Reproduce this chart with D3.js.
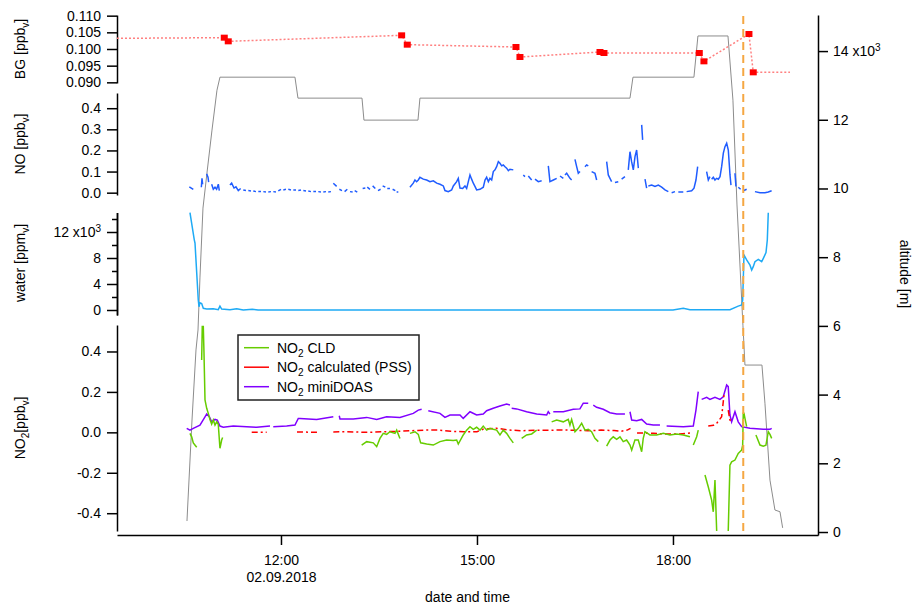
<!DOCTYPE html>
<html>
<head>
<meta charset="utf-8">
<script src="https://cdn.jsdelivr.net/npm/d3@7"></script>
<style>
  body { margin: 0; background: #fff; }
  text { font-family: "Liberation Sans", Arial, sans-serif; }
</style>
</head>
<body>
<svg id="chart" width="913" height="608"></svg>
<script>
// ---- data (time in decimal hours of 02.09.2018) ----
const flightDate = "02.09.2018";
const timeTicks = [12, 15, 18];
const eventTime = 19.076;

// background measurements [hour, ppbv]; first/last entries only extend the line
const bgData = [[9.49,0.1032],[11.132,0.1034],[11.193,0.1023],[13.847,0.1041],[13.933,0.1013],
  [15.597,0.1006],[15.658,0.0976],[16.883,0.0991],[16.944,0.0988],[18.403,0.0988],[18.474,0.0963],
  [19.163,0.1045],[19.229,0.0930],[19.791,0.0930]];
const bgTicks = [0.090, 0.095, 0.100, 0.105, 0.110];

// NO [ppbv]; null = no data
const noData = [[10.597,0.028],[10.627,0.022],[10.658,0.016],null,[10.781,0.026],[10.791,0.068],[10.801,0.040],null,
  [10.862,0.089],[10.883,0.073],[10.893,0.050],null,[10.939,0.040],[10.964,0.016],[10.990,0.026],[11.015,0.016],[11.041,0.040],[11.056,0.010],null,
  [11.219,0.036],[11.245,0.045],[11.281,0.022],[11.311,0.028],[11.347,0.010],[11.383,0.020],null,
  [11.423,0.013],[11.464,0.010],null,[11.500,0.010],[11.541,0.008],null,[11.576,0.008],[11.617,0.005],null,[11.653,0.005],[11.694,0.005],null,
  [11.730,0.005],[11.770,0.003],null,[11.806,0.003],[11.847,0.005],null,[11.883,0.005],[11.923,0.003],null,[11.959,0.008],[12.000,0.016],null,
  [12.036,0.013],[12.076,0.016],null,[12.112,0.016],[12.153,0.013],null,[12.189,0.013],[12.230,0.013],null,[12.265,0.010],[12.306,0.013],null,
  [12.342,0.010],[12.383,0.008],null,[12.418,0.008],[12.459,0.005],null,[12.495,0.005],[12.536,0.005],null,[12.571,0.005],[12.612,0.003],null,
  [12.648,0.003],[12.689,0.005],null,[12.724,0.003],[12.765,0.005],null,[12.801,0.045],[12.852,0.030],null,[12.893,0.016],[12.934,0.010],null,
  [12.974,0.005],[13.015,0.016],null,[13.056,0.005],[13.097,0.003],null,[13.128,0.010],[13.168,0.003],null,[13.250,0.020],[13.291,0.022],null,
  [13.321,0.026],[13.362,0.016],null,[13.403,0.032],[13.444,0.020],null,[13.485,0.010],[13.525,0.016],null,[13.556,0.032],[13.597,0.026],null,
  [13.627,0.020],[13.668,0.020],null,[13.709,0.016],[13.750,0.010],null,[13.770,0.003],[13.796,0.003],null,
  [13.974,0.026],[14.025,0.045],[14.051,0.060],[14.076,0.052],[14.102,0.060],[14.127,0.073],[14.178,0.064],[14.230,0.060],[14.281,0.052],
  [14.332,0.056],[14.383,0.045],[14.434,0.040],[14.485,0.032],[14.510,0.010],[14.561,0.005],[14.612,0.013],[14.638,0.032],[14.689,0.052],
  [14.714,0.068],[14.740,0.022],[14.781,0.020],[14.816,0.032],[14.842,0.020],[14.893,0.084],[14.918,0.064],[14.944,0.045],[14.969,0.030],
  [14.995,0.013],[15.046,0.016],[15.097,0.026],[15.123,0.060],[15.148,0.073],[15.174,0.052],[15.199,0.068],[15.225,0.060],[15.250,0.100],
  [15.276,0.108],[15.301,0.123],[15.327,0.147],[15.352,0.139],[15.378,0.127],[15.403,0.131],[15.429,0.123],[15.454,0.116],[15.480,0.104],
  [15.505,0.111],[15.556,0.108],null,
  [15.709,0.084],[15.735,0.076],null,[15.786,0.079],[15.837,0.060],null,[15.888,0.064],[15.939,0.052],[15.990,0.056],null,
  [16.092,0.127],[16.117,0.052],[16.169,0.060],[16.220,0.068],null,[16.271,0.079],[16.322,0.068],null,[16.347,0.084],[16.373,0.092],[16.424,0.068],[16.449,0.060],null,
  [16.500,0.158],[16.526,0.123],[16.551,0.092],[16.577,0.100],null,[16.653,0.123],[16.679,0.131],[16.704,0.127],null,[16.755,0.100],[16.806,0.092],[16.832,0.060],null,
  [16.985,0.147],[17.010,0.084],[17.036,0.068],[17.061,0.052],null,[17.112,0.048],[17.163,0.052],null,[17.214,0.064],[17.265,0.076],null,
  [17.316,0.108],[17.342,0.194],[17.367,0.147],[17.393,0.108],[17.419,0.171],[17.444,0.202],[17.470,0.116],null,[17.521,0.321],[17.536,0.250],null,
  [17.572,0.064],[17.597,0.021],null,[17.623,0.032],[17.674,0.036],[17.725,0.029],[17.776,0.036],[17.827,0.026],[17.878,0.013],[17.929,0.005],null,
  [17.980,0.000],[18.031,0.005],null,[18.082,0.003],[18.158,0.003],null,[18.209,0.005],[18.286,0.009],[18.322,0.021],[18.352,0.060],[18.378,0.123],null,
  [18.515,0.100],[18.541,0.060],[18.566,0.076],null,[18.592,0.064],[18.617,0.073],[18.643,0.060],[18.669,0.068],[18.694,0.064],[18.720,0.076],
  [18.745,0.123],[18.771,0.187],[18.796,0.218],[18.822,0.234],[18.847,0.202],[18.873,0.084],[18.888,0.036],null,
  [18.949,0.092],[18.964,0.029],null,[19.000,0.026],[19.036,0.016],null,[19.077,0.009],[19.128,0.016],null,
  [19.255,0.005],[19.332,0.000],[19.408,0.000],[19.459,0.003],[19.510,0.009]];
const noTicks = [0, 0.1, 0.2, 0.3, 0.4];

// water [10^3 ppmv]
const waterData = [[10.607,14.97],[10.673,10.8],[10.684,10.3],[10.734,1.54],[10.745,0.5],[10.760,1.1],[10.786,1.0],
  [10.811,0.26],[10.863,0.15],[10.964,0.2],[11.040,0.05],[11.066,0.6],[11.092,0.15],[11.219,0.05],[11.322,0.2],
  [11.423,0.0],[11.561,0.1],[11.65,0.0],[13.0,0.0],[15.0,0.0],[18.0,0.0],[18.158,0.25],[18.260,0.05],[18.873,0.05],
  [18.999,0.6],[19.052,0.77],[19.067,1.5],[19.087,8.46],[19.128,7.7],[19.179,6.9],[19.205,6.15],[19.229,6.67],
  [19.255,7.43],[19.306,7.8],[19.358,7.43],[19.383,7.95],[19.424,8.82],[19.444,10.77],[19.459,14.97]];
const waterTicks = [0, 4, 8, 12];
const waterMinorTicks = [2, 6, 10, 14];

// NO2 [ppbv]
const no2CldData = [[10.607,-0.005],[10.633,-0.022],[10.658,-0.052],[10.710,-0.074],null,
  [10.786,0.358],[10.795,0.523],[10.811,0.523],[10.821,0.40],[10.837,0.160],[10.863,0.119],[10.887,0.094],[10.913,0.064],
  [10.939,0.041],[10.964,0.061],[10.990,0.036],[11.016,0.052],[11.040,0.040],[11.066,-0.079],[11.092,-0.038],[11.107,-0.025],null,
  [13.235,-0.063],[13.312,-0.046],[13.413,-0.052],[13.465,-0.071],[13.515,-0.030],[13.566,-0.005],[13.617,-0.010],[13.668,0.003],
  [13.745,-0.005],[13.771,0.011],[13.821,-0.030],null,
  [13.974,-0.005],[14.051,0.003],[14.102,-0.010],[14.138,-0.052],[14.230,-0.058],[14.331,-0.063],[14.434,-0.046],[14.536,-0.038],
  [14.637,-0.040],[14.689,-0.038],[14.714,-0.058],[14.790,-0.013],[14.842,0.011],[14.893,0.028],[14.943,0.015],[14.995,0.025],
  [15.046,0.011],[15.096,0.031],[15.148,0.011],[15.199,0.020],[15.249,0.015],[15.301,0.011],[15.352,-0.013],[15.402,0.011],
  [15.454,-0.005],[15.505,-0.030],[15.556,-0.052],null,
  [15.684,-0.030],[15.760,-0.013],[15.837,-0.008],[15.914,0.011],null,
  [16.143,0.052],[16.220,0.061],[16.321,0.052],[16.397,0.064],[16.423,0.036],[16.449,0.064],[16.500,0.003],[16.551,0.020],
  [16.602,0.045],[16.653,0.011],[16.703,0.015],[16.754,0.003],[16.806,-0.030],[16.857,-0.046],null,
  [16.985,-0.068],[17.036,-0.038],[17.086,-0.022],[17.138,-0.035],[17.189,-0.022],[17.239,-0.046],[17.291,-0.038],[17.342,-0.063],
  [17.368,-0.088],[17.418,-0.038],[17.469,-0.038],[17.521,-0.096],[17.545,-0.030],[17.571,0.003],[17.648,-0.013],[17.750,-0.013],
  [17.852,-0.005],[17.954,-0.013],[18.056,-0.008],[18.158,-0.013],[18.260,-0.022],null,
  [18.311,-0.063],[18.363,-0.022],[18.387,0.011],null,
  [18.490,-0.211],[18.540,-0.269],[18.592,-0.335],[18.617,-0.393],[18.643,-0.236],[18.669,-0.488],null,
  [18.846,-0.488],[18.872,-0.162],[18.898,-0.146],[18.949,-0.137],[18.999,-0.104],[19.025,-0.096],[19.051,-0.088],[19.067,-0.063],
  [19.076,0.094],[19.087,0.094],[19.102,0.069],[19.128,0.028],null,
  [19.270,-0.013],[19.332,-0.063],[19.382,-0.068],[19.423,-0.063],[19.459,0.003],[19.485,-0.010],[19.511,-0.030]];

const no2PssData = [[11.552,0.000],[11.781,0.000],null,[12.245,0.002],[12.551,0.000],null,
  [12.801,0.002],[13.0,0.003],[13.3,0.000],[13.6,0.003],[13.8,0.005],[14.0,0.008],[14.2,0.011],[14.4,0.011],[14.6,0.005],
  [14.8,0.003],[15.0,0.003],[15.1,0.016],[15.3,0.020],[15.5,0.011],[15.7,0.008],[15.9,0.011],[16.1,0.010],[16.3,0.012],
  [16.5,0.010],[16.7,0.008],[16.9,0.011],[17.1,0.009],[17.2,0.005],[17.3,0.011],[17.35,0.020],null,
  [17.45,-0.003],[17.7,-0.005],[17.9,-0.008],[18.1,-0.008],[18.3,-0.002],null,
  [18.54,0.031],[18.62,0.035],[18.67,0.045],[18.745,0.077],[18.781,0.185],[18.796,0.190],null,
  [18.846,0.110],[18.872,0.061],[18.923,0.050]];

const no2DoasData = [[10.557,0.020],[10.607,0.011],[10.658,0.020],[10.760,0.036],[10.837,0.077],[10.863,0.091],[10.903,0.077],
  [10.939,0.052],[10.990,0.064],[11.025,0.061],[11.066,0.031],[11.117,0.025],[11.270,0.031],[11.475,0.028],[11.628,0.025],
  [11.832,0.031],null,[11.882,0.028],[12.087,0.031],[12.214,0.036],[12.265,0.069],[12.291,0.069],[12.546,0.064],[12.801,0.077],null,
  [12.892,0.082],[12.903,0.066],[13.107,0.066],[13.312,0.074],[13.465,0.064],[13.617,0.077],[13.821,0.074],[14.025,0.094],
  [14.102,0.110],[14.153,0.114],null,[14.255,0.107],[14.434,0.094],[14.510,0.074],[14.587,0.086],[14.740,0.086],[14.790,0.069],
  [14.893,0.102],[14.995,0.086],[15.096,0.091],[15.148,0.107],[15.249,0.119],[15.352,0.130],[15.454,0.140],[15.505,0.135],null,
  [15.531,0.119],[15.607,0.116],[15.760,0.102],[15.914,0.091],[16.067,0.086],[16.091,0.102],[16.117,0.091],null,
  [16.168,0.102],[16.321,0.102],[16.474,0.114],[16.576,0.116],[16.627,0.144],[16.703,0.144],null,
  [16.780,0.135],[16.832,0.124],[16.933,0.114],[17.036,0.097],[17.138,0.091],[17.265,0.091],null,
  [17.342,0.102],[17.368,0.061],[17.444,0.058],[17.521,0.064],[17.597,0.041],[17.698,0.036],[17.801,0.036],null,
  [17.903,0.031],[18.158,0.028],[18.311,0.031],[18.352,0.110],[18.387,0.201],null,
  [18.439,0.163],[18.516,0.173],[18.566,0.163],[18.643,0.173],[18.719,0.163],[18.770,0.176],[18.822,0.234],[18.846,0.226],
  [18.872,0.086],[18.898,0.052],[18.949,0.102],[18.999,0.052],[19.051,0.028],[19.178,0.020],[19.382,0.015],[19.485,0.015],[19.511,0.020]];
const no2Ticks = [-0.4, -0.2, 0, 0.2, 0.4];

// altitude [10^3 m]
const altData = [[10.561,0.32],[10.638,3.26],[10.699,5.30],[10.730,5.88],[10.760,7.42],[10.806,9.43],[10.867,10.45],
  [10.944,11.70],[11.020,12.86],[11.066,13.24],[12.214,13.24],[12.260,12.63],[13.240,12.63],[13.270,11.99],[14.097,11.99],
  [14.127,12.63],[17.342,12.63],[17.388,13.24],[18.321,13.24],[18.382,14.44],[18.842,14.44],[18.918,12.57],[18.980,9.52],
  [19.071,6.02],[19.102,4.86],[19.362,4.86],[19.408,3.75],[19.485,1.51],[19.561,0.64],[19.638,0.59],[19.679,0.12]];
const altTicks = [0, 2, 4, 6, 8, 10, 12, 14];

const legendItems = [
  { name: " CLD", color: "#66cc00" },
  { name: " calculated (PSS)", color: "#ff0000" },
  { name: " miniDOAS", color: "#8000ff" }
];

// ---- layout ----
const FONT = '"Liberation Sans", Arial, sans-serif';
const svg = d3.select("#chart");
const left = 117, right = 818;

const x = d3.scaleLinear().domain([9.49, 20.22]).range([left, right]);
const yBG = d3.scaleLinear().domain([0.0898, 0.1102]).range([83, 15]);
const yNO = d3.scaleLinear().domain([-0.011, 0.472]).range([195, 93]);
const yW = d3.scaleLinear().domain([-0.77, 15.0]).range([315, 212.5]);
const yNO2 = d3.scaleLinear().domain([-0.488, 0.531]).range([531, 325]);
const yAlt = d3.scaleLinear().domain([-0.087, 15.05]).range([535, 15]);

const fmt = f => d => d3.format(f)(d).replace("\u2212", "-");

function styleAxis(g) {
  g.selectAll("path, line").attr("stroke", "#000").attr("stroke-width", 1.5);
  g.selectAll("text").attr("font-size", 14).attr("font-family", FONT).attr("fill", "#000");
}

function addSup(sel, base, sup) {
  sel.text(base);
  sel.append("tspan").attr("dy", "-0.5em").attr("font-size", 10).text(sup);
}

// left axes
const axBG = svg.append("g").attr("transform", `translate(${left},0)`)
  .call(d3.axisLeft(yBG).tickValues(bgTicks).tickSize(10).tickPadding(6).tickSizeOuter(0).tickFormat(fmt(".3f")));
styleAxis(axBG);

const axNO = svg.append("g").attr("transform", `translate(${left},0)`)
  .call(d3.axisLeft(yNO).tickValues(noTicks).tickSize(10).tickPadding(6).tickSizeOuter(0).tickFormat(fmt(".1f")));
styleAxis(axNO);

const axWm = svg.append("g").attr("transform", `translate(${left},0)`)
  .call(d3.axisLeft(yW).tickValues(waterMinorTicks).tickSize(5).tickSizeOuter(0).tickFormat(""));
styleAxis(axWm);
const axW = svg.append("g").attr("transform", `translate(${left},0)`)
  .call(d3.axisLeft(yW).tickValues(waterTicks).tickSize(10).tickPadding(6).tickSizeOuter(0).tickFormat(d3.format("d")));
styleAxis(axW);
axW.selectAll(".tick text").filter(d => d === 12).each(function () { addSup(d3.select(this), "12 x10", "3"); });

const axNO2 = svg.append("g").attr("transform", `translate(${left},0)`)
  .call(d3.axisLeft(yNO2).tickValues(no2Ticks).tickSize(10).tickPadding(6).tickSizeOuter(0).tickFormat(fmt(".1f")));
styleAxis(axNO2);

// right axis (altitude)
const axAlt = svg.append("g").attr("transform", `translate(${right},0)`)
  .call(d3.axisRight(yAlt).tickValues(altTicks).tickSize(10).tickPadding(5).tickSizeOuter(0).tickFormat(d3.format("d")));
styleAxis(axAlt);
axAlt.selectAll(".tick text").filter(d => d === 14).each(function () { addSup(d3.select(this), "14 x10", "3"); });

// bottom axis
const axX = svg.append("g").attr("transform", "translate(0,535)")
  .call(d3.axisBottom(x).tickValues(timeTicks).tickSize(10).tickPadding(10).tickSizeOuter(0)
    .tickFormat(d => d3.format("02")(d) + ":00"));
styleAxis(axX);
axX.selectAll(".tick text").filter(d => d === 12).append("tspan")
  .attr("x", 0).attr("dy", "1.2em").text(flightDate);

// axis titles
function rotLabel(cx, cy, angle, parts) {
  const t = svg.append("text").attr("transform", `translate(${cx},${cy}) rotate(${angle})`)
    .attr("text-anchor", "middle").attr("font-size", 14).attr("font-family", FONT).attr("fill", "#000");
  parts.forEach(p => {
    const s = t.append("tspan").text(p.t);
    if (p.sub) s.attr("font-size", 10).attr("dy", 4);
    if (p.back) s.attr("dy", -4);
  });
  return t;
}
rotLabel(25, 49, -90, [{ t: "BG [ppb" }, { t: "v", sub: true }, { t: "]", back: true }]);
rotLabel(25, 144, -90, [{ t: "NO [ppb" }, { t: "v", sub: true }, { t: "]", back: true }]);
rotLabel(25, 263, -90, [{ t: "water [ppm" }, { t: "v", sub: true }, { t: "]", back: true }]);
rotLabel(25, 428, -90, [{ t: "NO" }, { t: "2", sub: true }, { t: "[ppb", back: true }, { t: "v", sub: true }, { t: "]", back: true }]);
rotLabel(900, 274, 90, [{ t: "altitude [m]" }]);
svg.append("text").attr("x", (left + right) / 2).attr("y", 602).attr("text-anchor", "middle")
  .attr("font-size", 14).attr("font-family", FONT).attr("fill", "#000").text("date and time");

// ---- marks ----
const mkLine = y => d3.line().defined(d => d !== null).x(d => x(d[0])).y(d => y(d[1]));

// altitude
svg.append("path").datum(altData).attr("d", mkLine(yAlt))
  .attr("fill", "none").attr("stroke", "#8c8c8c").attr("stroke-width", 1);

// background line + markers
svg.append("path").datum(bgData).attr("d", mkLine(yBG))
  .attr("fill", "none").attr("stroke", "#ff8080").attr("stroke-width", 1.5).attr("stroke-dasharray", "2,2");
svg.append("g").selectAll("rect").data(bgData.slice(1, -1)).join("rect")
  .attr("x", d => x(d[0]) - 3.5).attr("y", d => yBG(d[1]) - 3).attr("width", 7).attr("height", 6)
  .attr("fill", "#ff0000");

// NO
svg.append("path").datum(noData).attr("d", mkLine(yNO))
  .attr("fill", "none").attr("stroke", "#1f5cff").attr("stroke-width", 1.5);

// water
svg.append("path").datum(waterData).attr("d", mkLine(yW))
  .attr("fill", "none").attr("stroke", "#1eaaf5").attr("stroke-width", 1.5);

// NO2 series
svg.append("path").datum(no2DoasData).attr("d", mkLine(yNO2))
  .attr("fill", "none").attr("stroke", "#8000ff").attr("stroke-width", 1.5);
svg.append("path").datum(no2PssData).attr("d", mkLine(yNO2))
  .attr("fill", "none").attr("stroke", "#ff0000").attr("stroke-width", 1.5).attr("stroke-dasharray", "6,3,2,3");
svg.append("path").datum(no2CldData).attr("d", mkLine(yNO2))
  .attr("fill", "none").attr("stroke", "#66cc00").attr("stroke-width", 1.5);

// event marker
svg.append("line").attr("x1", x(eventTime)).attr("x2", x(eventTime)).attr("y1", 16).attr("y2", 535)
  .attr("stroke", "#f5a742").attr("stroke-width", 2).attr("stroke-dasharray", "8,5");

// legend
const lg = svg.append("g").attr("transform", "translate(238,335)");
lg.append("rect").attr("width", 181).attr("height", 65).attr("fill", "#fff")
  .attr("stroke", "#222").attr("stroke-width", 1.5);
legendItems.forEach((it, i) => {
  const yy = 12.7 + i * 19.5;
  lg.append("line").attr("x1", 6).attr("x2", 31).attr("y1", yy).attr("y2", yy)
    .attr("stroke", it.color).attr("stroke-width", 1.5);
  const t = lg.append("text").attr("x", 39).attr("y", yy + 5)
    .attr("font-size", 14).attr("font-family", FONT).attr("fill", "#000");
  t.append("tspan").text("NO");
  t.append("tspan").attr("font-size", 10).attr("dy", 4).text("2");
  t.append("tspan").attr("dy", -4).text(it.name);
});
</script>
</body>
</html>
